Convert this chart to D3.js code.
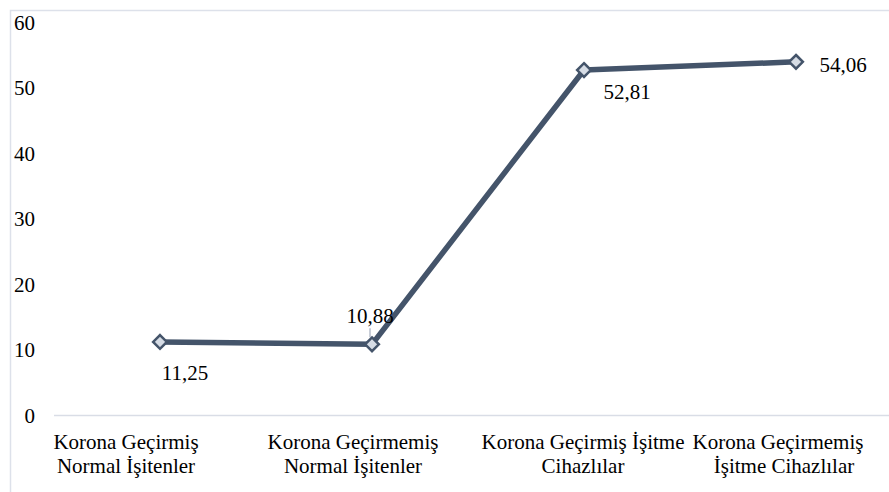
<!DOCTYPE html>
<html>
<head>
<meta charset="utf-8">
<script src="https://cdn.jsdelivr.net/npm/d3@7"></script>
</head>
<body style="margin:0;background:#ffffff">
<svg id="s" width="889" height="492"></svg>
<script>
// Category labels (two lines each) and mean scores
const categories = [
  ["Korona Geçirmiş", "Normal İşitenler"],
  ["Korona Geçirmemiş", "Normal İşitenler"],
  ["Korona Geçirmiş İşitme", "Cihazlılar"],
  ["Korona Geçirmemiş", "İşitme Cihazlılar"]
];
const values = [11.25, 10.88, 52.81, 54.06];
const valueLabels = ["11,25", "10,88", "52,81", "54,06"];
const yTicks = [0, 10, 20, 30, 40, 50, 60];

const SERIF = "'Liberation Serif'";
const FS = 21;
const svg = d3.select("#s");
const W = 889, H = 492;

// Plot area
const plot = { left: 54, right: 902, top: 23, bottom: 415.5 };

const keys = categories.map((c, i) => i);
const x = d3.scaleBand().domain(keys).range([plot.left, plot.right]);
const y = d3.scaleLinear().domain([0, 60]).range([plot.bottom, plot.top]);
const cx = i => x(i) + x.bandwidth() / 2;

// Chart frame
svg.append("path")
  .attr("d", `M10.5,${H + 2} V10.5 H${W + 2}`)
  .attr("fill", "none")
  .attr("stroke", "#dde1ea")
  .attr("stroke-width", 1.5);

// Baseline
svg.append("line")
  .attr("x1", plot.left).attr("x2", plot.right)
  .attr("y1", y(0)).attr("y2", y(0))
  .attr("stroke", "#d9dde6").attr("stroke-width", 1.5);

// Y axis labels, drawn from the axis' tick values
yTicks.forEach(v => {
  svg.append("text")
    .attr("x", 35).attr("y", y(v) + 7)
    .attr("font-size", FS)
    .attr("text-anchor", "end")
    .style("font-family", SERIF)
    .text(d3.format("d")(v));
});

// Category labels (Excel-style wrapped labels sit slightly off the band centres)
const labelNudge = [[-34, -34], [-19, -19], [-1, -1], [-18, -12]];
categories.forEach((lines, i) => {
  lines.forEach((ln, j) => {
    svg.append("text")
      .attr("x", cx(i) + labelNudge[i][j])
      .attr("y", 449 + j * 24)
      .attr("font-size", FS)
      .attr("text-anchor", "middle")
      .style("font-family", SERIF)
      .text(ln);
  });
});

// Series line
const line = d3.line().x((d, i) => cx(i)).y(d => y(d));
svg.append("path")
  .datum(values)
  .attr("d", line)
  .attr("fill", "none")
  .attr("stroke", "#44546a")
  .attr("stroke-width", 5.5)
  .attr("stroke-linejoin", "round");

// Leader line for the second data label
svg.append("line")
  .attr("x1", cx(1) - 2).attr("x2", cx(1) - 2)
  .attr("y1", y(values[1]) - 16).attr("y2", y(values[1]) - 7)
  .attr("stroke", "#c9ced8").attr("stroke-width", 2);

// Diamond markers
const diamond = d3.symbol().type(d3.symbolDiamond2).size(120);
svg.selectAll(".marker")
  .data(values)
  .join("path")
  .attr("class", "marker")
  .attr("d", diamond)
  .attr("transform", (d, i) => `translate(${cx(i)},${y(d)})`)
  .attr("fill", "#d6dce5")
  .attr("stroke", "#44546a")
  .attr("stroke-width", 2.5);

// Data labels
const labelOffsets = [[25, 31], [-2, -28], [43, 22], [47, 3]];
values.forEach((d, i) => {
  svg.append("text")
    .attr("x", cx(i) + labelOffsets[i][0])
    .attr("y", y(d) + labelOffsets[i][1] + 7)
    .attr("font-size", FS)
    .attr("text-anchor", "middle")
    .style("font-family", SERIF)
    .text(valueLabels[i]);
});
</script>
</body>
</html>
